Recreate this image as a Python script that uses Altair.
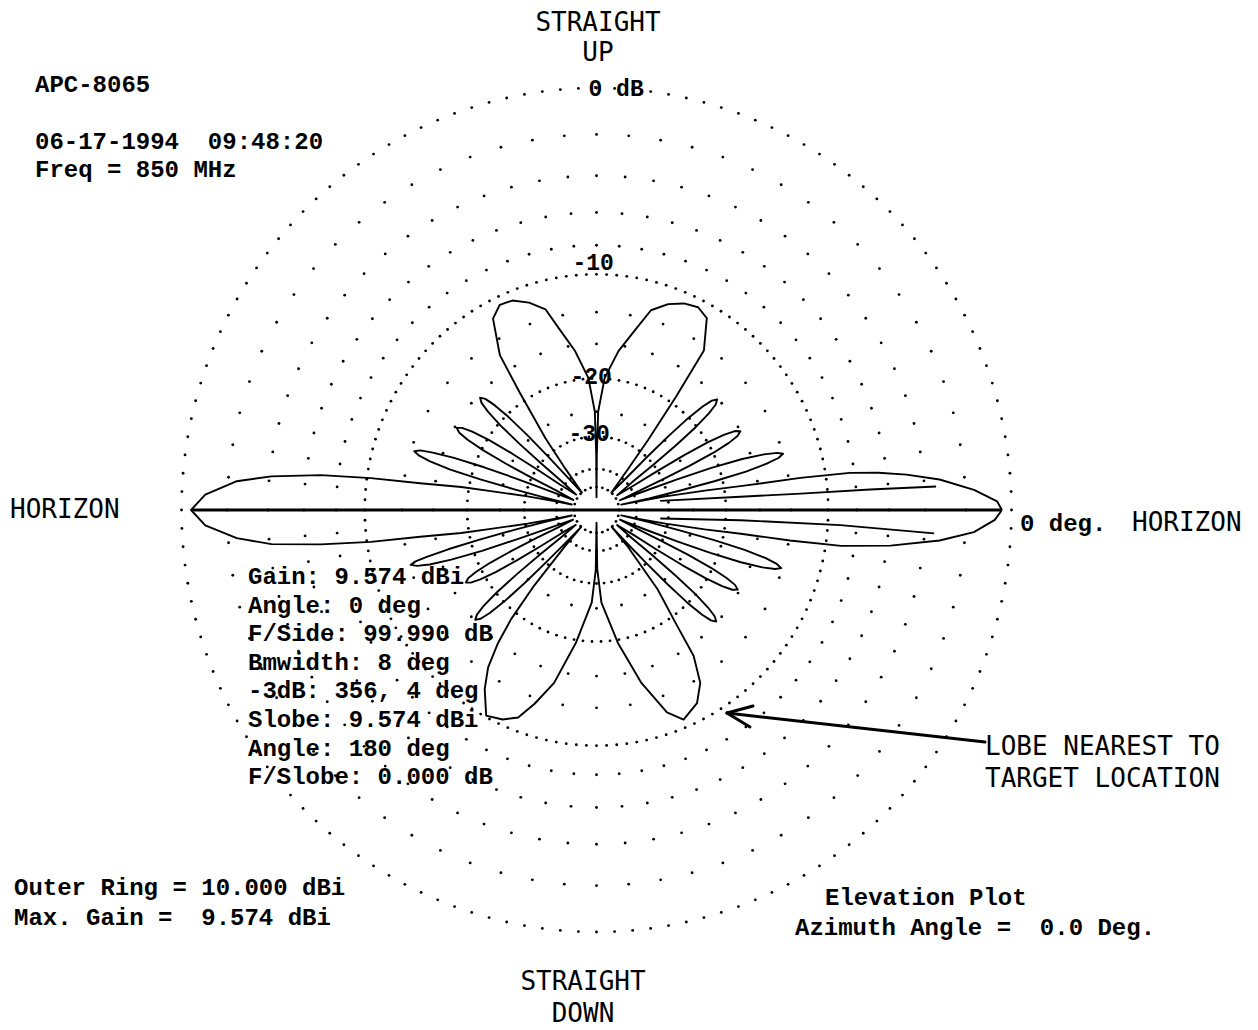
import numpy as np
import pandas as pd
import altair as alt

# ---------------- data ----------------
# Elevation pattern trace: angle (deg, 0 = right horizon, counter-clockwise) and gain (dB rel. outer ring)
PATTERN_ANGLE_DEG = [
    0.0, 1.2, 3.0, 5.0, 6.4, 7.4, 8.2, 8.8, 9.2, 10.0, 11.0, 11.6, 12.0,
    12.3, 12.9, 13.5, 14.2, 15.0, 15.7, 16.5, 17.3, 18.1, 19.0, 19.8, 20.5, 21.1, 22.3,
    23.8, 24.4, 25.0, 25.7, 26.5, 27.3, 28.3, 29.3, 30.1, 30.9, 31.6, 32.2, 32.8, 35.0,
    37.5, 38.1, 38.7, 39.4, 40.2, 41.0, 42.0, 43.0, 43.8, 44.6, 45.3, 45.9, 46.5, 49.0,
    52.0, 53.2, 54.5, 55.6, 59.7, 63.0, 66.7, 70.5, 74.5, 77.5, 82.0, 86.4, 89.0, 89.7, 90.0,
    90.3, 91.0, 93.6, 97.8, 101.9, 104.5, 108.3, 112.2, 115.6, 118.8, 122.4, 123.6, 125.9, 127.5, 130.5,
    132.0, 132.6, 133.2, 133.9, 134.7, 135.5, 136.5, 137.5, 138.3, 139.1, 139.8, 140.4, 141.0, 143.2,
    145.5, 146.1, 146.7, 147.4, 148.2, 149.0, 150.0, 151.0, 151.8, 152.6, 153.3, 153.9, 154.5, 157.0,
    158.3, 158.9, 159.5, 160.2, 161.0, 161.6, 162.4, 163.2, 164.0, 164.8, 165.5, 166.1, 166.7, 167.6,
    168.3, 169.0, 170.0, 170.5, 171.5, 172.1, 172.9, 174.2, 175.5, 177.8, 180.0,
    182.2, 184.4, 185.9, 187.0, 187.9, 188.5, 189.5, 190.0, 191.0, 191.7, 192.3,
    192.8, 193.4, 194.0, 194.6, 195.2, 195.6, 196.2, 197.0, 197.8, 198.6, 199.3, 199.9, 200.5, 202.2,
    204.1, 204.7, 205.3, 206.0, 206.8, 207.6, 208.6, 209.6, 210.4, 211.2, 211.9, 212.5, 213.1, 215.3,
    217.2, 217.8, 218.4, 219.1, 219.9, 220.7, 221.7, 222.7, 223.5, 224.3, 225.0, 225.6, 226.2, 227.3,
    228.5, 230.0, 231.5, 233.0, 235.0, 237.6, 241.4, 245.5, 249.0, 252.0, 256.0, 261.0, 267.0, 269.3, 270.0,
    270.7, 273.1, 279.3, 284.7, 289.5, 292.9, 297.9, 301.4, 304.1, 305.3, 308.1, 311.0, 312.4,
    313.0, 313.6, 314.2, 314.9, 315.7, 316.5, 317.5, 318.5, 319.3, 320.1, 320.8, 321.4, 322.0, 324.3,
    326.5, 327.1, 327.7, 328.4, 329.2, 330.0, 331.0, 332.0, 332.8, 333.6, 334.3, 334.9, 335.5, 337.8,
    338.5, 339.1, 339.7, 340.4, 341.2, 342.0, 342.8, 343.6, 344.4, 345.2, 345.9, 346.5, 347.2, 347.8,
    348.2, 349.0, 350.0, 350.8, 351.2, 351.8, 353.2, 355.0, 356.7, 358.6, 360.0,
]
PATTERN_GAIN_DB = [
    -0.4, -0.6, -1.6, -3.2, -4.9, -6.5, -8.3, -12.0, -17.5, -22.8, -30.5, -40.0, -48.0,
    -35.0, -27.0, -21.0, -17.0, -14.7, -13.5, -13.0, -13.5, -14.7, -17.0, -21.0, -27.0, -35.0, -48.0,
    -38.0, -30.0, -24.0, -20.0, -17.7, -16.5, -16.0, -16.5, -17.7, -20.0, -24.0, -30.0, -38.0, -48.0,
    -38.1, -30.1, -24.1, -20.1, -17.8, -16.6, -16.1, -16.6, -17.8, -20.1, -24.1, -30.1, -38.1, -50.0,
    -36.0, -27.0, -19.0, -13.4, -11.0, -10.6, -10.8, -11.3, -12.2, -14.1, -16.6, -19.9, -25.0, -35.0, -60.0,
    -35.0, -25.0, -19.9, -16.6, -14.1, -12.2, -11.3, -10.7, -10.6, -11.3, -14.3, -18.7, -26.8, -35.9, -50.0,
    -38.3, -30.3, -24.3, -20.3, -18.0, -16.8, -16.3, -16.8, -18.0, -20.3, -24.3, -30.3, -38.3, -48.0,
    -38.2, -30.2, -24.2, -20.2, -17.9, -16.7, -16.2, -16.7, -17.9, -20.2, -24.2, -30.2, -38.2, -48.0,
    -35.3, -27.3, -21.3, -17.3, -15.0, -13.8, -13.3, -13.8, -15.0, -17.3, -21.3, -27.3, -35.3, -48.0,
    -40.0, -30.5, -23.5, -19.0, -14.5, -10.3, -6.9, -4.1, -2.4, -1.0, -0.4,
    -1.0, -2.4, -4.1, -6.9, -10.3, -14.5, -19.0, -23.5, -30.5, -40.0, -48.0,
    -35.1, -27.1, -21.1, -17.1, -14.8, -13.6, -13.1, -13.6, -14.8, -17.1, -21.1, -27.1, -35.1, -48.0,
    -39.6, -31.6, -25.6, -21.6, -19.3, -18.1, -17.6, -18.1, -19.3, -21.6, -25.6, -31.6, -39.6, -48.0,
    -38.1, -30.1, -24.1, -20.1, -17.8, -16.6, -16.1, -16.6, -17.8, -20.1, -24.1, -30.1, -38.1, -50.0,
    -37.0, -25.0, -19.0, -16.0, -13.5, -11.8, -10.1, -10.4, -11.0, -12.5, -14.8, -19.6, -26.0, -33.5, -60.0,
    -33.8, -26.0, -19.6, -14.8, -11.6, -10.6, -11.3, -12.6, -15.0, -18.7, -24.6, -37.4, -50.0,
    -38.1, -30.1, -24.1, -20.1, -17.8, -16.6, -16.1, -16.6, -17.8, -20.1, -24.1, -30.1, -38.1, -48.0,
    -38.2, -30.2, -24.2, -20.2, -17.9, -16.7, -16.2, -16.7, -17.9, -20.2, -24.2, -30.2, -38.2, -48.0,
    -35.1, -27.1, -21.1, -17.1, -14.8, -13.6, -13.1, -13.6, -14.8, -17.1, -21.1, -27.1, -35.1, -48.0,
    -40.0, -30.5, -22.8, -17.9, -12.9, -8.9, -5.8, -3.2, -1.6, -0.7, -0.4,
]

# Second (partial) sweep visible inside the right-hand main lobe
INNER_TRACE_ID = ["upper"] * 5 + ["lower"] * 4
INNER_ANGLE_DEG = [8.0, 5.2, 4.5, 4.2, 3.9, 352.5, 356.0, 356.5, 356.1]
INNER_GAIN_DB = [-32.0, -18.1, -12.1, -7.1, -3.4, -32.0, -18.1, -9.1, -3.5]

# Max-gain line (main lobe 0 deg and back lobe 180 deg)
GAIN_LINE_ANGLE_DEG = [180.0, 0.0]
GAIN_LINE_DB = [-0.43, -0.43]

# Grid: dotted rings and dotted radial lines (spacing of the radial dots per band)
RING_DB = [0, -10, -20, -30, -40, -50]
RING_DOT_STEP_DEG = [2.5, 2.5, 4.0, 6.0, 10.0, 15.0]
RADIAL_BANDS = [  # (radial step in degrees, dB positions of the dots)
    (5, [-2, -4, -6, -8]),
    (10, [-13, -16]),
    (15, [-25]),
]

RING_LABEL_TEXT = ["0 dB", "-10", "-20", "-30"]
RING_LABEL_DB = [0, -10, -20, -30]

NB = "\u00a0"
TITLE_LINES = ["APC-8065", "06-17-1994" + NB + NB + "09:48:20", "Freq = 850 MHz"]
INFO_LINES = [
    "Gain: 9.574 dBi", "Angle: 0 deg", "F/Side: 99.990 dB", "Bmwidth: 8 deg",
    "-3dB: 356, 4 deg", "Slobe: 9.574 dBi", "Angle: 180 deg", "F/Slobe: 0.000 dB",
]
RING_INFO_LINES = ["Outer Ring = 10.000 dBi", "Max. Gain =" + NB + NB + "9.574 dBi"]
PLOT_INFO_LINES = ["Elevation Plot", "Azimuth Angle =" + NB + NB + "0.0 Deg."]
CALLOUT_LINES = ["LOBE NEAREST TO", "TARGET LOCATION"]


# ---------------- helpers ----------------
def polar_xy(angle_deg, gain_db):
    frac = np.power(0.89, -np.asarray(gain_db, dtype=float) / 2.0)  # ARRL log scale
    a = np.radians(np.asarray(angle_deg, dtype=float))
    return frac * np.cos(a), frac * np.sin(a)


px, py = polar_xy(PATTERN_ANGLE_DEG, PATTERN_GAIN_DB)
pattern_df = pd.DataFrame({"x": px, "y": py, "i": np.arange(len(px))})

ix, iy = polar_xy(INNER_ANGLE_DEG, INNER_GAIN_DB)
inner_df = pd.DataFrame({"x": ix, "y": iy, "trace": INNER_TRACE_ID, "i": np.arange(len(ix))})

gx, gy = polar_xy(GAIN_LINE_ANGLE_DEG, GAIN_LINE_DB)
gain_df = pd.DataFrame({"x": gx, "y": gy, "i": [0, 1]})

grid_rows = []
for db, step in zip(RING_DB, RING_DOT_STEP_DEG):
    angs = np.arange(0, 360, step)
    xx, yy = polar_xy(angs, [db] * len(angs))
    grid_rows += list(zip(xx, yy))
for step, dbs in RADIAL_BANDS:
    for ang in range(0, 360, step):
        xx, yy = polar_xy([ang] * len(dbs), dbs)
        grid_rows += list(zip(xx, yy))
grid_df = pd.DataFrame(grid_rows, columns=["x", "y"])

lx, ly = polar_xy([90] * len(RING_LABEL_DB), RING_LABEL_DB)
ring_lab_df = pd.DataFrame({"x": lx, "y": ly, "t": RING_LABEL_TEXT})

# ---------------- chart ----------------
W, H = 1242, 1014
XS = alt.Scale(domain=[-1.4181, 1.5747], nice=False, zero=False)
YS = alt.Scale(domain=[-1.2133, 1.1896], nice=False, zero=False)
X = alt.X("x:Q", scale=XS, axis=None)
Y = alt.Y("y:Q", scale=YS, axis=None)

MONO_BOLD = "Liberation Mono"
THIN = "DejaVu Sans Mono"

grid = alt.Chart(grid_df).mark_circle(size=8, color="black", opacity=1).encode(x=X, y=Y)

pattern = alt.Chart(pattern_df).mark_line(
    color="black", strokeWidth=1.9, strokeJoin="round"
).encode(x=X, y=Y, order="i:Q")

inner = alt.Chart(inner_df).mark_line(
    color="black", strokeWidth=1.9, strokeJoin="round"
).encode(x=X, y=Y, detail="trace:N", order="i:Q")

gain_line = alt.Chart(gain_df).mark_line(color="black", strokeWidth=3).encode(x=X, y=Y, order="i:Q")

ring_layers = []
offsets = {"0 dB": (-8, 1), "-10": (-24, -11), "-20": (-26, -1), "-30": (-28, -3)}
for t in RING_LABEL_TEXT:
    dx, dy = offsets[t]
    ring_layers.append(
        alt.Chart(ring_lab_df[ring_lab_df.t == t]).mark_text(
            align="left", baseline="middle", font=MONO_BOLD, fontWeight="bold",
            fontSize=23, dx=dx, dy=dy, color="black"
        ).encode(x=X, y=Y, text="t:N")
    )


def txt(s, x, y, font=MONO_BOLD, weight="bold", size=24, align="left"):
    return alt.Chart(pd.DataFrame({"t": [s]})).mark_text(
        align=align, baseline="middle", font=font, fontWeight=weight,
        fontSize=size, color="black"
    ).encode(x=alt.value(x), y=alt.value(y), text="t:N")


texts = []
# thin labels
texts.append(txt("STRAIGHT", 590, 15, THIN, "normal", 26, "center"))
texts.append(txt("UP", 590, 45, THIN, "normal", 26, "center"))
texts.append(txt("STRAIGHT", 575, 974, THIN, "normal", 26, "center"))
texts.append(txt("DOWN", 575, 1006, THIN, "normal", 26, "center"))
texts.append(txt("HORIZON", 2, 502, THIN, "normal", 26))
texts.append(txt("HORIZON", 1124, 515, THIN, "normal", 26))
for k, s in enumerate(CALLOUT_LINES):
    texts.append(txt(s, 977, 739 + 32 * k, THIN, "normal", 26))
# bold mono annotations
texts.append(txt("0 deg.", 1012, 516))
texts.append(txt(TITLE_LINES[0], 27, 77))
texts.append(txt(TITLE_LINES[1], 27, 134))
texts.append(txt(TITLE_LINES[2], 27, 162))
for k, s in enumerate(INFO_LINES):
    texts.append(txt(s, 240, 569 + 28.6 * k))
for k, s in enumerate(RING_INFO_LINES):
    texts.append(txt(s, 6, 880 + 30 * k))
texts.append(txt(PLOT_INFO_LINES[0], 817, 890))
texts.append(txt(PLOT_INFO_LINES[1], 787, 920))


# arrow pointing to the lobe nearest to the target location
def seg(x1, y1, x2, y2, w=3):
    return alt.Chart(pd.DataFrame({"a": [0]})).mark_rule(
        color="black", strokeWidth=w, strokeCap="round"
    ).encode(x=alt.value(x1), y=alt.value(y1), x2=alt.value(x2), y2=alt.value(y2))


arrow = [seg(977, 734, 719, 705), seg(719, 705, 745, 698), seg(719, 705, 742, 719)]

chart = alt.layer(
    grid, pattern, inner, gain_line, *ring_layers, *texts, *arrow
).properties(
    width=W, height=H, padding=0, background="white"
).configure_view(stroke=None)

chart.save("out.html", embed_options={"renderer": "svg", "actions": False})
